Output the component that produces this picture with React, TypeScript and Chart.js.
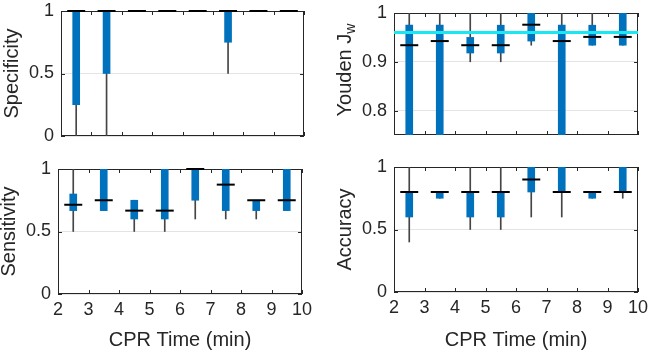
import React, { useEffect, useRef } from "react";
import { Chart, registerables } from "chart.js";

Chart.register(...registerables);

// ---------- data ----------
const cprTimes = [2.5, 3.5, 4.5, 5.5, 6.5, 7.5, 8.5, 9.5];
const xTickValues = [2, 3, 4, 5, 6, 7, 8, 9, 10];

const specQ1 = [0.25, 0.5, 1, 1, 1, 0.75, 1, 1];
const specQ3 = [1, 1, 1, 1, 1, 1, 1, 1];
const specMedian = [1, 1, 1, 1, 1, 1, 1, 1];
const specWhiskerLo = [0, 0, 1, 1, 1, 0.5, 1, 1];
const specWhiskerHi = [1, 1, 1, 1, 1, 1, 1, 1];
const specTicks = [0, 0.5, 1];

const youdenQ1 = [0.6, 0.6, 0.918, 0.918, 0.9425, 0.6, 0.934, 0.934];
const youdenQ3 = [0.975, 0.975, 0.95, 0.975, 1, 0.975, 0.975, 1];
const youdenMedian = [0.934, 0.9425, 0.934, 0.934, 0.976, 0.9425, 0.951, 0.951];
const youdenWhiskerLo = [0.5, 0.5, 0.9, 0.9, 0.934, 0.5, 0.934, 0.934];
const youdenWhiskerHi = [1, 1, 1, 1, 1, 1, 1, 1];
const youdenThreshold = 0.96;
const youdenTicks = [0.8, 0.9, 1];

const sensQ1 = [0.667, 0.667, 0.6, 0.6, 0.75, 0.667, 0.667, 0.667];
const sensQ3 = [0.8, 1, 0.75, 1, 1, 1, 0.75, 1];
const sensMedian = [0.714, 0.75, 0.667, 0.667, 1, 0.875, 0.75, 0.75];
const sensWhiskerLo = [0.5, 0.667, 0.5, 0.5, 0.6, 0.6, 0.6, 0.667];
const sensWhiskerHi = [1, 1, 0.75, 1, 1, 1, 0.75, 1];
const sensTicks = [0, 0.5, 1];

const accQ1 = [0.6, 0.75, 0.6, 0.6, 0.8, 0.8, 0.75, 0.8];
const accQ3 = [0.8, 0.8, 0.8, 0.8, 1, 1, 0.8, 1];
const accMedian = [0.8, 0.8, 0.8, 0.8, 0.9, 0.8, 0.8, 0.8];
const accWhiskerLo = [0.4, 0.75, 0.5, 0.5, 0.6, 0.6, 0.75, 0.75];
const accWhiskerHi = [1, 0.8, 1, 1, 1, 1, 0.8, 1];
const accTicks = [0, 0.5, 1];

const xTitle = "CPR Time (min)";

// ---------- styles ----------
const FONT = "'Liberation Sans', Arial, sans-serif";
const TEXT = "#262626";
const BLUE = "#0072BD";
const CYAN = "#19E8F2";

const framePlugin = {
  id: "matlabFrame",
  beforeDatasetsDraw(chart: any) {
    const { ctx, chartArea: a, scales } = chart;
    ctx.save();
    ctx.strokeStyle = TEXT;
    ctx.lineWidth = 1;
    ctx.strokeRect(a.left + 0.5, a.top + 0.5, a.right - a.left - 1, a.bottom - a.top - 1);
    const tl = 4;
    ctx.beginPath();
    for (const t of scales.x.ticks) {
      const px = Math.round(scales.x.getPixelForValue(t.value)) + 0.5;
      ctx.moveTo(px, a.bottom);
      ctx.lineTo(px, a.bottom - tl);
      ctx.moveTo(px, a.top);
      ctx.lineTo(px, a.top + tl);
    }
    for (const t of scales.y.ticks) {
      const py = Math.round(scales.y.getPixelForValue(t.value)) + 0.5;
      ctx.moveTo(a.left, py);
      ctx.lineTo(a.left + tl, py);
      ctx.moveTo(a.right, py);
      ctx.lineTo(a.right - tl, py);
    }
    ctx.stroke();
    ctx.restore();
  },
  afterDraw(chart: any) {
    const opts = chart.options.plugins.subLabel;
    if (!opts || !opts.main) return;
    const { ctx, chartArea: a } = chart;
    ctx.save();
    ctx.fillStyle = TEXT;
    ctx.font = `20px ${FONT}`;
    const wMain = ctx.measureText(opts.main).width;
    ctx.font = `14px ${FONT}`;
    const wSub = ctx.measureText(opts.sub).width;
    const total = wMain + wSub;
    ctx.translate(a.left - 49, (a.top + a.bottom) / 2 - 4);
    ctx.rotate(-Math.PI / 2);
    ctx.textBaseline = "middle";
    ctx.textAlign = "left";
    ctx.font = `20px ${FONT}`;
    ctx.fillText(opts.main, -total / 2, 0);
    ctx.font = `14px ${FONT}`;
    ctx.fillText(opts.sub, -total / 2 + wMain, 6);
    ctx.restore();
  },
};

type PanelProps = {
  L: number;
  T: number;
  R: number;
  B: number;
  q1: number[];
  q3: number[];
  med: number[];
  wlo: number[];
  whi: number[];
  yMin: number;
  yMax: number;
  yTicks: number[];
  yTitle?: string;
  ySub?: { main: string; sub: string };
  showX: boolean;
  threshold?: number;
};

function Panel(p: PanelProps) {
  const ref = useRef<HTMLCanvasElement | null>(null);
  const padTop = 12;
  const padRight = 14;
  const yW = 60;
  const xH = p.showX ? 350 - p.B : 14;
  const cw = p.R - p.L + yW + padRight;
  const ch = padTop + (p.B - p.T) + xH;

  useEffect(() => {
    if (!ref.current) return;
    const datasets: any[] = [
      {
        type: "line",
        label: "median",
        data: cprTimes.map((x, i) => ({ x, y: p.med[i] })),
        showLine: false,
        pointStyle: "line",
        pointRadius: 9,
        pointHoverRadius: 9,
        pointBorderWidth: 2,
        pointBorderColor: "#000000",
        borderColor: "#000000",
        clip: false,
        order: 0,
      },
      {
        type: "bar",
        label: "box",
        data: cprTimes.map((x, i) => ({ x, y: [p.q1[i], p.q3[i]] })),
        backgroundColor: BLUE,
        borderWidth: 0,
        barThickness: 7,
        grouped: false,
        clip: 0,
        order: 2,
      },
      {
        type: "bar",
        label: "whisker",
        data: cprTimes.map((x, i) => ({ x, y: [p.wlo[i], p.whi[i]] })),
        backgroundColor: "#454545",
        borderWidth: 0,
        barThickness: 1,
        grouped: false,
        clip: 0,
        order: 3,
      },
    ];
    if (p.threshold !== undefined) {
      datasets.push({
        type: "line",
        label: "threshold",
        data: [
          { x: xTickValues[0], y: p.threshold },
          { x: xTickValues[xTickValues.length - 1], y: p.threshold },
        ],
        borderColor: CYAN,
        borderWidth: 3,
        pointRadius: 0,
        clip: 0,
        order: 1,
      });
    }
    const chart = new Chart(ref.current, {
      type: "bar",
      data: { datasets },
      plugins: [framePlugin],
      options: {
        animation: false,
        responsive: false,
        maintainAspectRatio: false,
        events: [],
        layout: { padding: { top: padTop, right: padRight, left: 0, bottom: 0 } },
        plugins: {
          legend: { display: false },
          tooltip: { enabled: false },
          subLabel: p.ySub || null,
        } as any,
        scales: {
          x: {
            type: "linear",
            min: xTickValues[0],
            max: xTickValues[xTickValues.length - 1],
            offset: false,
            afterBuildTicks: (s: any) => {
              s.ticks = xTickValues.map((v) => ({ value: v }));
            },
            afterFit: (s: any) => {
              s.height = xH;
              s.paddingLeft = 0;
              s.paddingRight = 0;
            },
            grid: { display: false, offset: false, drawTicks: false },
            border: { display: false },
            ticks: {
              display: p.showX,
              padding: 5,
              color: TEXT,
              font: { size: 18, family: FONT },
              maxRotation: 0,
              autoSkip: false,
              callback: (v: any) => String(v),
            },
            title: {
              display: p.showX,
              text: xTitle,
              color: TEXT,
              font: { size: 20, family: FONT, lineHeight: 1 },
              padding: { top: 0, bottom: 0 },
            },
          },
          y: {
            type: "linear",
            min: p.yMin,
            max: p.yMax,
            beginAtZero: false,
            afterBuildTicks: (s: any) => {
              s.ticks = p.yTicks.map((v) => ({ value: v }));
            },
            afterFit: (s: any) => {
              s.width = yW;
              s.paddingTop = 0;
              s.paddingBottom = 0;
            },
            grid: { color: "#e4e4e4", drawTicks: false },
            border: { display: false },
            ticks: {
              padding: 7,
              color: TEXT,
              font: { size: 18, family: FONT },
              callback: (v: any) => String(Number(Number(v).toFixed(2))),
            },
            title: {
              display: !!p.yTitle,
              text: p.yTitle || "",
              color: TEXT,
              font: { size: 20, family: FONT, lineHeight: 1 },
              padding: { top: 1, bottom: 0 },
            },
          },
        },
      } as any,
    });
    return () => chart.destroy();
  }, []);

  return (
    <canvas
      ref={ref}
      width={cw}
      height={ch}
      style={{
        position: "absolute",
        left: p.L - yW,
        top: p.T - padTop,
        width: cw,
        height: ch,
      }}
    />
  );
}

export default function App() {
  return (
    <div
      style={{
        position: "absolute",
        left: 0,
        top: 0,
        width: 649,
        height: 351,
        overflow: "hidden",
        background: "#ffffff",
      }}
    >
      <Panel
        L={61}
        T={11}
        R={304}
        B={136}
        q1={specQ1}
        q3={specQ3}
        med={specMedian}
        wlo={specWhiskerLo}
        whi={specWhiskerHi}
        yMin={0}
        yMax={1}
        yTicks={specTicks}
        yTitle="Specificity"
        showX={false}
      />
      <Panel
        L={394}
        T={13}
        R={638}
        B={135}
        q1={youdenQ1}
        q3={youdenQ3}
        med={youdenMedian}
        wlo={youdenWhiskerLo}
        whi={youdenWhiskerHi}
        yMin={0.75}
        yMax={1}
        yTicks={youdenTicks}
        ySub={{ main: "Youden J", sub: "w" }}
        showX={false}
        threshold={youdenThreshold}
      />
      <Panel
        L={58}
        T={169}
        R={302}
        B={294}
        q1={sensQ1}
        q3={sensQ3}
        med={sensMedian}
        wlo={sensWhiskerLo}
        whi={sensWhiskerHi}
        yMin={0}
        yMax={1}
        yTicks={sensTicks}
        yTitle="Sensitivity"
        showX={true}
      />
      <Panel
        L={394}
        T={167}
        R={638}
        B={292}
        q1={accQ1}
        q3={accQ3}
        med={accMedian}
        wlo={accWhiskerLo}
        whi={accWhiskerHi}
        yMin={0}
        yMax={1}
        yTicks={accTicks}
        yTitle="Accuracy"
        showX={true}
      />
    </div>
  );
}
